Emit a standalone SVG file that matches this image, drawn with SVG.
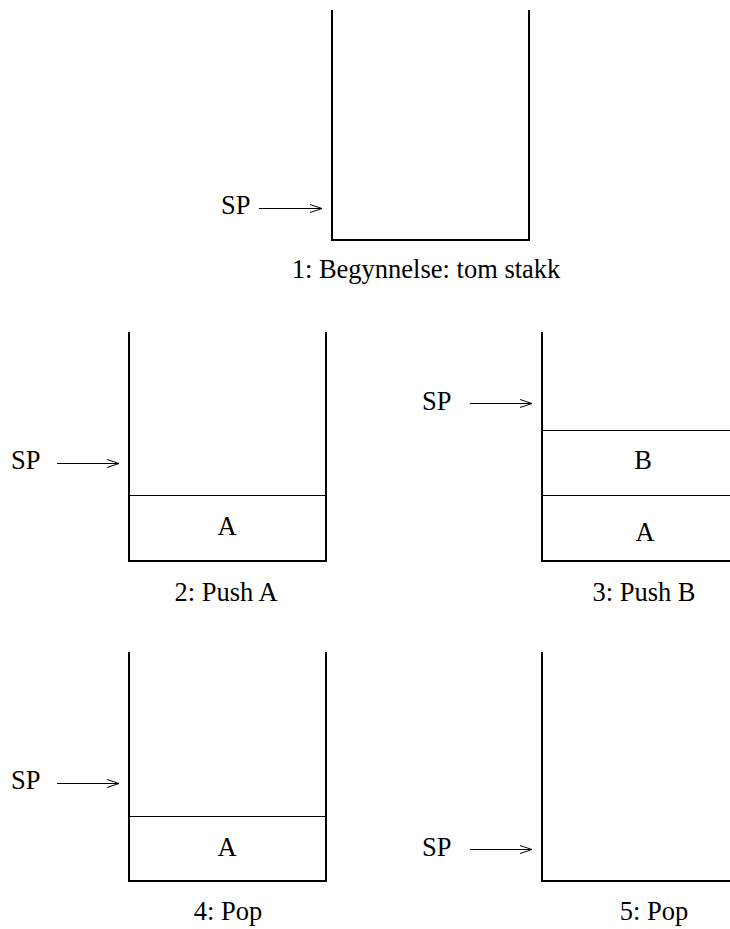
<svg xmlns="http://www.w3.org/2000/svg" width="730" height="929" viewBox="0 0 730 929" font-family="'Liberation Serif', 'Times New Roman', serif" font-size="26.5">
  <style>
    .cap { text-anchor: middle; }
    .cell { text-anchor: middle; }
    .wall { fill: none; stroke: #000; stroke-width: 2; stroke-linejoin: miter; }
    .div { stroke: #000; stroke-width: 1; }
    .ptr { stroke: #000; stroke-width: 1; fill: none; marker-end: url(#open); }
  </style>
  <defs>
    <marker id="open" markerWidth="14" markerHeight="10" refX="13" refY="5" orient="auto" markerUnits="userSpaceOnUse">
      <path d="M1,1 L13,5 L1,9" fill="none" stroke="#000" stroke-width="1"/>
    </marker>
  </defs>

  <!-- 1: empty stack -->
  <g id="stack1">
    <path class="wall" d="M332,10 V240 H529 V10"/>
    <text x="221" y="214">SP</text>
    <text class="cap" x="426" y="278">1: Begynnelse: tom stakk</text>
  </g>

  <!-- 2: push A -->
  <g id="stack2">
    <path class="wall" d="M129,332 V561 H326 V332"/>
    <line class="div" x1="129" y1="495.5" x2="326" y2="495.5"/>
    <text class="cell" x="227" y="535">A</text>
    <text x="11" y="469">SP</text>
    <text class="cap" x="226" y="601">2: Push A</text>
  </g>

  <!-- 3: push B -->
  <g id="stack3">
    <path class="wall" d="M542,332 V561 H740"/>
    <line class="div" x1="542" y1="430.5" x2="730" y2="430.5"/>
    <line class="div" x1="542" y1="495.5" x2="730" y2="495.5"/>
    <text class="cell" x="643" y="469">B</text>
    <text class="cell" x="645" y="541">A</text>
    <text x="422" y="410">SP</text>
    <text class="cap" x="644" y="601">3: Push B</text>
  </g>

  <!-- 4: pop -->
  <g id="stack4">
    <path class="wall" d="M129,652 V881 H326 V652"/>
    <line class="div" x1="129" y1="816.5" x2="326" y2="816.5"/>
    <text class="cell" x="227" y="856">A</text>
    <text x="11" y="789">SP</text>
    <text class="cap" x="228" y="920">4: Pop</text>
  </g>

  <!-- 5: pop -->
  <g id="stack5">
    <path class="wall" d="M542,652 V881 H740"/>
    <text x="422" y="856">SP</text>
    <text class="cap" x="654" y="920">5: Pop</text>
  </g>

  <!-- stack pointer arrows -->
  <g id="pointers">
    <line class="ptr" x1="259" y1="208.5" x2="322" y2="208.5"/>
    <line class="ptr" x1="57" y1="463.5" x2="119" y2="463.5"/>
    <line class="ptr" x1="470" y1="403.5" x2="532" y2="403.5"/>
    <line class="ptr" x1="57" y1="783.5" x2="119" y2="783.5"/>
    <line class="ptr" x1="470" y1="849.5" x2="532" y2="849.5"/>
  </g>
</svg>
